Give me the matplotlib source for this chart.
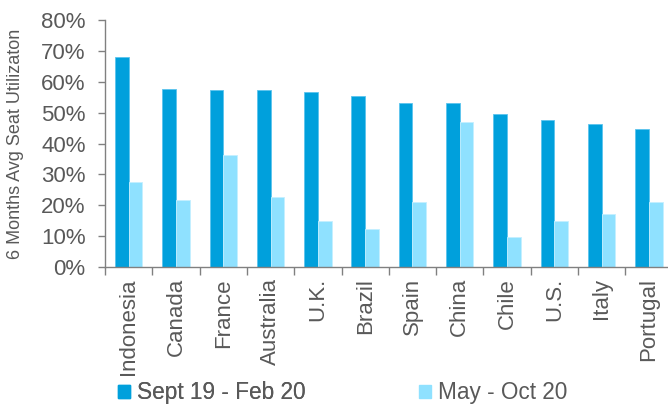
import matplotlib
matplotlib.use("Agg")
import matplotlib.pyplot as plt
import numpy as np
from matplotlib.patches import Patch

categories = ["Indonesia", "Canada", "France", "Australia", "U.K.", "Brazil",
              "Spain", "China", "Chile", "U.S.", "Italy", "Portugal"]
pre_covid = [68.1, 57.7, 57.3, 57.2, 56.6, 55.3, 53.2, 53.1, 49.6, 47.6, 46.3, 44.6]
covid = [27.4, 21.7, 36.3, 22.6, 15.0, 12.4, 21.1, 46.9, 9.7, 14.9, 17.2, 21.0]
series_names = ["Sept 19 - Feb 20", "May - Oct 20"]
yticks = [0, 10, 20, 30, 40, 50, 60, 70, 80]

plt.rcParams['font.family'] = ['Liberation Sans', 'DejaVu Sans']
txt = "#595959"
dark = "#00A0DC"
light = "#8FE1FF"

fig = plt.figure(figsize=(6.68, 4.07), dpi=100)
W, H = 668, 407
left_px, right_px, top_px, bot_px = 105, 672.6, 20, 267
ax = fig.add_axes([left_px / W, 1 - bot_px / H, (right_px - left_px) / W, (bot_px - top_px) / H])

x = np.arange(len(categories))
bw = 0.29
ax.bar(x - bw / 2, pre_covid, width=bw, color=dark, edgecolor="#5cc4ee", linewidth=0.6, label=series_names[0])
ax.bar(x + bw / 2, covid, width=bw, color=light, edgecolor="#c4efff", linewidth=0.6, label=series_names[1])

ax.set_xlim(-0.5, len(categories) - 0.5)
ax.set_ylim(0, 80)
ax.set_yticks(yticks)
ax.set_yticklabels([f"{v}%" for v in yticks], fontsize=16, color=txt)
ax.set_xticks(x)
ax.set_xticklabels(categories, rotation=90, fontsize=16, color=txt)
ax.tick_params(axis='x', length=0, pad=8)
ax.set_xticks(np.arange(len(categories) + 1) - 0.5, minor=True)
ax.tick_params(axis='x', which='minor', length=6, color="#808080", width=1)
ax.tick_params(axis='y', length=5, color="#808080", width=1, pad=9)

for s in ["top", "right"]:
    ax.spines[s].set_visible(False)
for s in ["left", "bottom"]:
    ax.spines[s].set_color("#808080")
    ax.spines[s].set_linewidth(1)

ax.set_ylabel("6 Months Avg Seat Utilizaton", fontsize=13, color=txt)
ax.yaxis.set_label_coords(-(left_px - 24) / (right_px - left_px), 0.5)

h1 = Patch(facecolor=dark, edgecolor=dark)
h2 = Patch(facecolor=light, edgecolor=light)
leg1 = fig.legend([h1], [series_names[0]], loc="center left", bbox_to_anchor=(118 / W, 1 - 393 / H),
                  frameon=False, fontsize=16.3, handlelength=0.55, handleheight=0.55,
                  handletextpad=0.3, borderaxespad=0, borderpad=0, labelcolor=txt)
leg2 = fig.legend([h2], [series_names[1]], loc="center left", bbox_to_anchor=(419 / W, 1 - 393 / H),
                  frameon=False, fontsize=16.3, handlelength=0.55, handleheight=0.55,
                  handletextpad=0.3, borderaxespad=0, borderpad=0, labelcolor=txt)
fig.add_artist(leg1)

fig.savefig("out.png", dpi=100)
